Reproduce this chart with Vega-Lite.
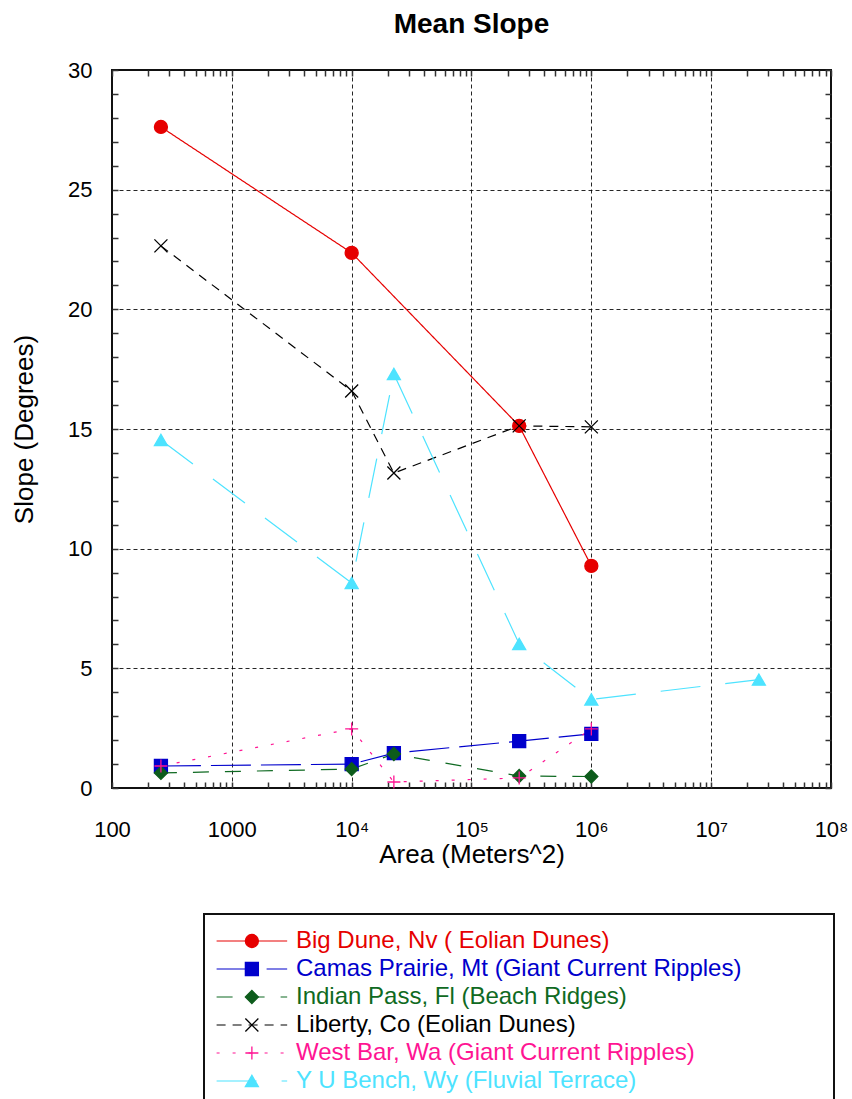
{
  "$schema": "https://vega.github.io/schema/vega-lite/v6.json",
  "background": "white",
  "padding": {"left": 10, "top": 10, "right": 0, "bottom": 0},
  "spacing": 45,
  "config": {
    "font": "Liberation Sans",
    "view": {"stroke": "#111111", "strokeWidth": 2}
  },
  "datasets": {
    "pts": [
      {"series": "Big Dune, Nv ( Eolian Dunes)", "area": 256, "slope": 27.62},
      {"series": "Big Dune, Nv ( Eolian Dunes)", "area": 10000, "slope": 22.36},
      {"series": "Big Dune, Nv ( Eolian Dunes)", "area": 250000, "slope": 15.13},
      {"series": "Big Dune, Nv ( Eolian Dunes)", "area": 1000000, "slope": 9.28},
      {"series": "Camas Prairie, Mt (Giant Current Ripples)", "area": 256, "slope": 0.92},
      {"series": "Camas Prairie, Mt (Giant Current Ripples)", "area": 10000, "slope": 1.0},
      {"series": "Camas Prairie, Mt (Giant Current Ripples)", "area": 22500, "slope": 1.46},
      {"series": "Camas Prairie, Mt (Giant Current Ripples)", "area": 250000, "slope": 1.96},
      {"series": "Camas Prairie, Mt (Giant Current Ripples)", "area": 1000000, "slope": 2.26},
      {"series": "Indian Pass, Fl (Beach Ridges)", "area": 256, "slope": 0.63},
      {"series": "Indian Pass, Fl (Beach Ridges)", "area": 10000, "slope": 0.79},
      {"series": "Indian Pass, Fl (Beach Ridges)", "area": 22500, "slope": 1.42},
      {"series": "Indian Pass, Fl (Beach Ridges)", "area": 250000, "slope": 0.5},
      {"series": "Indian Pass, Fl (Beach Ridges)", "area": 1000000, "slope": 0.48},
      {"series": "Liberty, Co (Eolian Dunes)", "area": 256, "slope": 22.65},
      {"series": "Liberty, Co (Eolian Dunes)", "area": 10000, "slope": 16.59},
      {"series": "Liberty, Co (Eolian Dunes)", "area": 22500, "slope": 13.16},
      {"series": "Liberty, Co (Eolian Dunes)", "area": 250000, "slope": 15.13},
      {"series": "Liberty, Co (Eolian Dunes)", "area": 1000000, "slope": 15.09},
      {"series": "West Bar, Wa (Giant Current Ripples)", "area": 256, "slope": 0.92},
      {"series": "West Bar, Wa (Giant Current Ripples)", "area": 10000, "slope": 2.47},
      {"series": "West Bar, Wa (Giant Current Ripples)", "area": 22500, "slope": 0.25},
      {"series": "West Bar, Wa (Giant Current Ripples)", "area": 250000, "slope": 0.42},
      {"series": "West Bar, Wa (Giant Current Ripples)", "area": 1000000, "slope": 2.47},
      {"series": "Y U Bench, Wy (Fluvial Terrace)", "area": 256, "slope": 14.54},
      {"series": "Y U Bench, Wy (Fluvial Terrace)", "area": 10000, "slope": 8.57},
      {"series": "Y U Bench, Wy (Fluvial Terrace)", "area": 22500, "slope": 17.3},
      {"series": "Y U Bench, Wy (Fluvial Terrace)", "area": 250000, "slope": 6.02},
      {"series": "Y U Bench, Wy (Fluvial Terrace)", "area": 1000000, "slope": 3.7},
      {"series": "Y U Bench, Wy (Fluvial Terrace)", "area": 25000000, "slope": 4.53}
    ],
    "leg": [
      {"series": "Big Dune, Nv ( Eolian Dunes)"},
      {"series": "Camas Prairie, Mt (Giant Current Ripples)"},
      {"series": "Indian Pass, Fl (Beach Ridges)"},
      {"series": "Liberty, Co (Eolian Dunes)"},
      {"series": "West Bar, Wa (Giant Current Ripples)"},
      {"series": "Y U Bench, Wy (Fluvial Terrace)"}
    ]
  },
  "vconcat": [
    {
      "width": 719,
      "height": 718,
      "title": {"text": "Mean Slope", "fontSize": 28, "fontWeight": "bold", "color": "black", "frame": "group", "anchor": "middle", "baseline": "alphabetic", "offset": -2},
      "data": {"name": "pts"},
      "layer": [
        {
          "mark": {"type": "line", "strokeWidth": 1.2},
          "encoding": {
            "x": {
              "field": "area", "type": "quantitative",
              "scale": {"type": "log", "domain": [100, 100000000], "nice": false},
              "axis": {
                "orient": "bottom",
                "values": [100,200,300,400,500,600,700,800,900,1000,2000,3000,4000,5000,6000,7000,8000,9000,10000,20000,30000,40000,50000,60000,70000,80000,90000,100000,200000,300000,400000,500000,600000,700000,800000,900000,1000000,2000000,3000000,4000000,5000000,6000000,7000000,8000000,9000000,10000000,20000000,30000000,40000000,50000000,60000000,70000000,80000000,90000000,100000000],
                "labelExpr": "datum.value === 100 ? '100' : datum.value === 1000 ? '1000' : datum.value === 10000 ? '10⁴' : datum.value === 100000 ? '10⁵' : datum.value === 1000000 ? '10⁶' : datum.value === 10000000 ? '10⁷' : datum.value === 100000000 ? '10⁸' : ''",
                "labelOverlap": false, "labelFlush": false, "labelBound": false,
                "labelFontSize": 22, "labelColor": "black", "labelPadding": 37,
                "tickSize": -6, "tickColor": "#333333", "tickWidth": 1.5,
                "domain": false,
                "grid": true, "gridColor": "black", "gridDash": [4, 3], "gridWidth": 1,
                "gridOpacity": {"condition": {"test": "indexof([1000,10000,100000,1000000,10000000], datum.value) >= 0", "value": 0.85}, "value": 0},
                "title": "Area (Meters^2)", "titleFontSize": 26, "titleFontWeight": "normal", "titleColor": "black", "titlePadding": 1
              }
            },
            "y": {
              "field": "slope", "type": "quantitative",
              "scale": {"domain": [0, 30], "nice": false, "zero": false},
              "axis": {
                "orient": "left",
                "values": [0,1,2,3,4,5,6,7,8,9,10,11,12,13,14,15,16,17,18,19,20,21,22,23,24,25,26,27,28,29,30],
                "labelExpr": "datum.value % 5 === 0 ? datum.label : ''",
                "labelOverlap": false, "labelFlush": false, "labelBound": false,
                "labelFontSize": 22, "labelColor": "black", "labelPadding": 26,
                "tickSize": -6, "tickColor": "#333333", "tickWidth": 1.5,
                "domain": false,
                "grid": true, "gridColor": "black", "gridDash": [4, 3], "gridWidth": 1,
                "gridOpacity": {"condition": {"test": "datum.value % 5 === 0 && datum.value > 0 && datum.value < 30", "value": 0.85}, "value": 0},
                "title": "Slope (Degrees)", "titleFontSize": 26, "titleFontWeight": "normal", "titleColor": "black", "titlePadding": 30
              }
            },
            "color": {
              "field": "series", "type": "nominal", "legend": null,
              "scale": {"domain": ["Big Dune, Nv ( Eolian Dunes)", "Camas Prairie, Mt (Giant Current Ripples)", "Indian Pass, Fl (Beach Ridges)", "Liberty, Co (Eolian Dunes)", "West Bar, Wa (Giant Current Ripples)", "Y U Bench, Wy (Fluvial Terrace)"], "range": ["#e60000", "#0000cc", "#0f6a22", "#000000", "#ff1493", "#4de3ff"]}
            },
            "strokeDash": {
              "field": "series", "type": "nominal", "legend": null,
              "scale": {"domain": ["Big Dune, Nv ( Eolian Dunes)", "Camas Prairie, Mt (Giant Current Ripples)", "Indian Pass, Fl (Beach Ridges)", "Liberty, Co (Eolian Dunes)", "West Bar, Wa (Giant Current Ripples)", "Y U Bench, Wy (Fluvial Terrace)"], "range": [[1, 0], [40, 10], [16, 16], [9, 7], [3, 13], [40, 25]]}
            }
          }
        },
        {
          "mark": {"type": "point", "size": 169, "strokeWidth": 1.3, "opacity": 1},
          "encoding": {
            "x": {
              "field": "area", "type": "quantitative",
              "scale": {"type": "log", "domain": [100, 100000000], "nice": false},
              "axis": {
                "orient": "top",
                "values": [100,200,300,400,500,600,700,800,900,1000,2000,3000,4000,5000,6000,7000,8000,9000,10000,20000,30000,40000,50000,60000,70000,80000,90000,100000,200000,300000,400000,500000,600000,700000,800000,900000,1000000,2000000,3000000,4000000,5000000,6000000,7000000,8000000,9000000,10000000,20000000,30000000,40000000,50000000,60000000,70000000,80000000,90000000,100000000],
                "labels": false, "tickSize": -6, "tickColor": "#333333", "tickWidth": 1.5,
                "domain": false, "grid": false, "title": null, "minExtent": 0, "maxExtent": 0
              }
            },
            "y": {
              "field": "slope", "type": "quantitative",
              "scale": {"domain": [0, 30], "nice": false, "zero": false},
              "axis": {
                "orient": "right",
                "values": [0,1,2,3,4,5,6,7,8,9,10,11,12,13,14,15,16,17,18,19,20,21,22,23,24,25,26,27,28,29,30],
                "labels": false, "tickSize": -6, "tickColor": "#333333", "tickWidth": 1.5,
                "domain": false, "grid": false, "title": null, "minExtent": 0, "maxExtent": 0
              }
            },
            "shape": {
              "field": "series", "type": "nominal", "legend": null,
              "scale": {"domain": ["Big Dune, Nv ( Eolian Dunes)", "Camas Prairie, Mt (Giant Current Ripples)", "Indian Pass, Fl (Beach Ridges)", "Liberty, Co (Eolian Dunes)", "West Bar, Wa (Giant Current Ripples)", "Y U Bench, Wy (Fluvial Terrace)"], "range": ["circle", "square", "diamond", "M-1,-1L1,1M-1,1L1,-1", "M-1,0L1,0M0,-1L0,1", "triangle-up"]}
            },
            "fill": {
              "field": "series", "type": "nominal", "legend": null,
              "scale": {"domain": ["Big Dune, Nv ( Eolian Dunes)", "Camas Prairie, Mt (Giant Current Ripples)", "Indian Pass, Fl (Beach Ridges)", "Liberty, Co (Eolian Dunes)", "West Bar, Wa (Giant Current Ripples)", "Y U Bench, Wy (Fluvial Terrace)"], "range": ["#e60000", "#0000cc", "#0d5c1c", "#000000", "#ff1493", "#4de3ff"]}
            },
            "stroke": {
              "field": "series", "type": "nominal", "legend": null,
              "scale": {"domain": ["Big Dune, Nv ( Eolian Dunes)", "Camas Prairie, Mt (Giant Current Ripples)", "Indian Pass, Fl (Beach Ridges)", "Liberty, Co (Eolian Dunes)", "West Bar, Wa (Giant Current Ripples)", "Y U Bench, Wy (Fluvial Terrace)"], "range": ["#e60000", "#0000cc", "#0d5c1c", "#000000", "#ff1493", "#4de3ff"]}
            }
          }
        }
      ],
      "resolve": {"axis": {"x": "independent", "y": "independent"}}
    },
    {
      "spacing": 0,
      "hconcat": [
        {
          "width": 91,
          "height": 194,
          "view": {"stroke": null},
          "data": {"name": "leg"},
          "mark": {"type": "point", "opacity": 0},
          "encoding": {}
        },
        {
          "width": 630,
          "height": 194,
          "data": {"name": "leg"},
          "encoding": {
            "y": {
              "field": "series", "type": "nominal",
              "scale": {"type": "point", "domain": ["Big Dune, Nv ( Eolian Dunes)", "Camas Prairie, Mt (Giant Current Ripples)", "Indian Pass, Fl (Beach Ridges)", "Liberty, Co (Eolian Dunes)", "West Bar, Wa (Giant Current Ripples)", "Y U Bench, Wy (Fluvial Terrace)"], "padding": 0.964},
              "axis": null
            }
          },
          "layer": [
            {
              "mark": {"type": "rule", "strokeWidth": 1.2},
              "encoding": {
                "x": {"datum": 2.0, "type": "quantitative", "scale": {"domain": [0, 100], "nice": false, "zero": false}, "axis": null},
                "x2": {"datum": 13.2},
                "color": {
                  "field": "series", "type": "nominal", "legend": null,
                  "scale": {"domain": ["Big Dune, Nv ( Eolian Dunes)", "Camas Prairie, Mt (Giant Current Ripples)", "Indian Pass, Fl (Beach Ridges)", "Liberty, Co (Eolian Dunes)", "West Bar, Wa (Giant Current Ripples)", "Y U Bench, Wy (Fluvial Terrace)"], "range": ["#e60000", "#0000cc", "#0f6a22", "#000000", "#ff1493", "#4de3ff"]}
                },
                "strokeDash": {
                  "field": "series", "type": "nominal", "legend": null,
                  "scale": {"domain": ["Big Dune, Nv ( Eolian Dunes)", "Camas Prairie, Mt (Giant Current Ripples)", "Indian Pass, Fl (Beach Ridges)", "Liberty, Co (Eolian Dunes)", "West Bar, Wa (Giant Current Ripples)", "Y U Bench, Wy (Fluvial Terrace)"], "range": [[1, 0], [40, 10], [16, 16], [9, 7], [3, 13], [40, 25]]}
                }
              }
            },
            {
              "mark": {"type": "point", "size": 169, "strokeWidth": 1.3, "opacity": 1},
              "encoding": {
                "x": {"datum": 7.6, "type": "quantitative", "scale": {"domain": [0, 100], "nice": false, "zero": false}, "axis": null},
                "shape": {
                  "field": "series", "type": "nominal", "legend": null,
                  "scale": {"domain": ["Big Dune, Nv ( Eolian Dunes)", "Camas Prairie, Mt (Giant Current Ripples)", "Indian Pass, Fl (Beach Ridges)", "Liberty, Co (Eolian Dunes)", "West Bar, Wa (Giant Current Ripples)", "Y U Bench, Wy (Fluvial Terrace)"], "range": ["circle", "square", "diamond", "M-1,-1L1,1M-1,1L1,-1", "M-1,0L1,0M0,-1L0,1", "triangle-up"]}
                },
                "fill": {
                  "field": "series", "type": "nominal", "legend": null,
                  "scale": {"domain": ["Big Dune, Nv ( Eolian Dunes)", "Camas Prairie, Mt (Giant Current Ripples)", "Indian Pass, Fl (Beach Ridges)", "Liberty, Co (Eolian Dunes)", "West Bar, Wa (Giant Current Ripples)", "Y U Bench, Wy (Fluvial Terrace)"], "range": ["#e60000", "#0000cc", "#0d5c1c", "#000000", "#ff1493", "#4de3ff"]}
                },
                "stroke": {
                  "field": "series", "type": "nominal", "legend": null,
                  "scale": {"domain": ["Big Dune, Nv ( Eolian Dunes)", "Camas Prairie, Mt (Giant Current Ripples)", "Indian Pass, Fl (Beach Ridges)", "Liberty, Co (Eolian Dunes)", "West Bar, Wa (Giant Current Ripples)", "Y U Bench, Wy (Fluvial Terrace)"], "range": ["#e60000", "#0000cc", "#0d5c1c", "#000000", "#ff1493", "#4de3ff"]}
                }
              }
            },
            {
              "mark": {"type": "text", "align": "left", "baseline": "middle", "fontSize": 24},
              "encoding": {
                "x": {"datum": 14.6, "type": "quantitative", "scale": {"domain": [0, 100], "nice": false, "zero": false}, "axis": null},
                "text": {"field": "series", "type": "nominal"},
                "color": {
                  "field": "series", "type": "nominal", "legend": null,
                  "scale": {"domain": ["Big Dune, Nv ( Eolian Dunes)", "Camas Prairie, Mt (Giant Current Ripples)", "Indian Pass, Fl (Beach Ridges)", "Liberty, Co (Eolian Dunes)", "West Bar, Wa (Giant Current Ripples)", "Y U Bench, Wy (Fluvial Terrace)"], "range": ["#e60000", "#0000cc", "#0f6a22", "#000000", "#ff1493", "#4de3ff"]}
                }
              }
            }
          ]
        }
      ]
    }
  ]
}
